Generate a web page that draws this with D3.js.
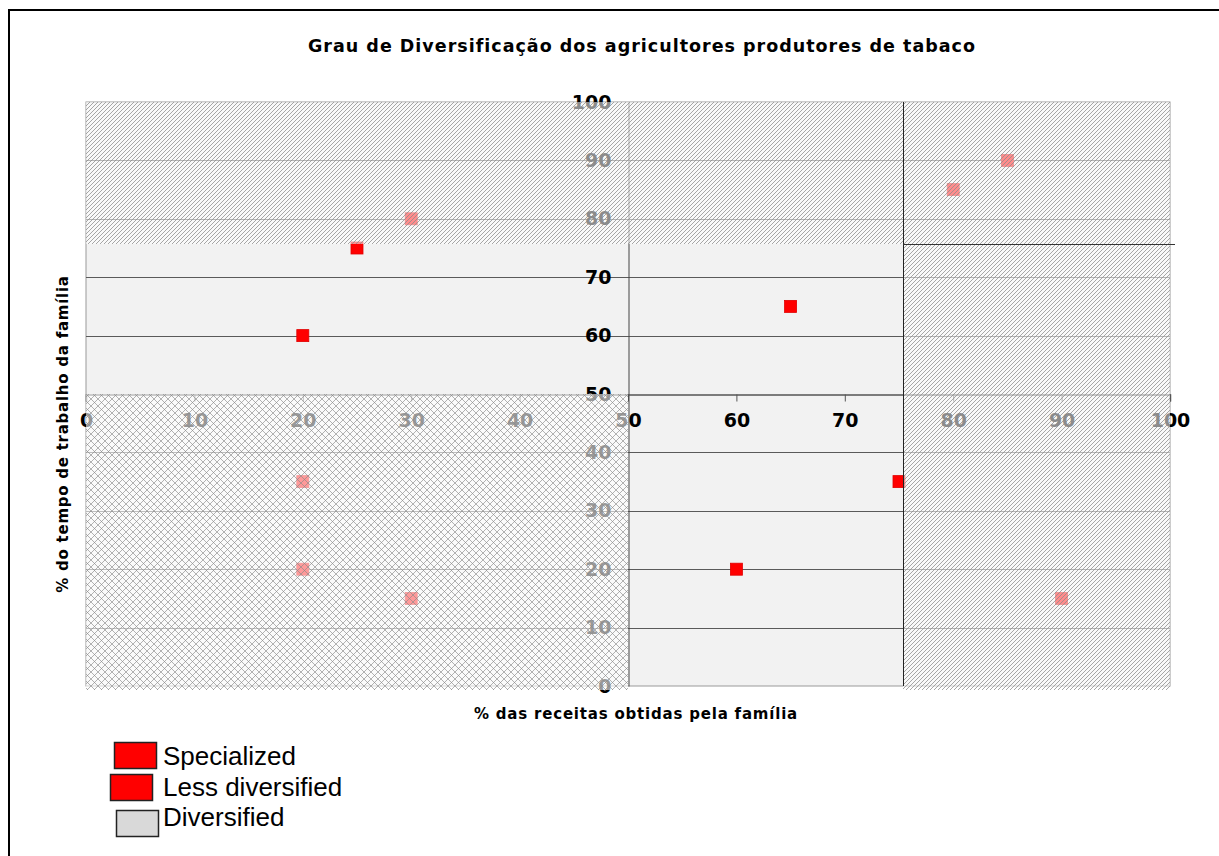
<!DOCTYPE html>
<html>
<head>
<meta charset="utf-8">
<script src="https://cdn.jsdelivr.net/npm/d3@7"></script>
<style>
  html, body { margin: 0; padding: 0; background: #fff; }
  svg { display: block; }
  text { font-family: "DejaVu Sans", Verdana, sans-serif; }
</style>
</head>
<body>
<svg id="chart" width="1219" height="856"></svg>
<script>
// Farm households: share of income (x) and share of family labour time (y) from tobacco
const incomeShare = [20, 25, 30, 65, 80, 85, 75, 60, 90, 20, 20, 30];
const labourShare = [60, 75, 80, 65, 85, 90, 35, 20, 15, 35, 20, 15];

const xTicks = [0, 10, 20, 30, 40, 50, 60, 70, 80, 90, 100];
const yTicks = [0, 10, 20, 30, 40, 50, 60, 70, 80, 90, 100];

// Diversification zones in data units
const zoneType = ["diag", "diag", "cross"];
const zoneX0 = [0, 75, 0];
const zoneX1 = [100, 100, 50];
const zoneY0 = [75, 0, 0];
const zoneY1 = [100, 75, 50];

const legendLabels = ["Specialized", "Less diversified", "Diversified"];
const legendColors = ["#ff0000", "#ff0000", "#d9d9d9"];

const titleText = "Grau de Diversificação dos agricultores produtores de tabaco";
const xTitle = "% das receitas obtidas pela família";
const yTitle = "% do tempo de trabalho da família";

const svg = d3.select("#chart");

// outer frame (left and top edges)
svg.append("path")
  .attr("d", "M9,860 V10 H1225")
  .attr("fill", "none").attr("stroke", "#000").attr("stroke-width", 2);

const plotL = 86, plotR = 1170, plotT = 102, plotB = 686;
const x = d3.scaleLinear().domain([0, 100]).range([plotL, plotR]);
const y = d3.scaleLinear().domain([0, 100]).range([plotB, plotT]);
const edge = 4; // zone edges at 75 sit slightly outside the marker centres

// hatch patterns
const defs = svg.append("defs");
const pd = defs.append("pattern").attr("id", "diag")
  .attr("patternUnits", "userSpaceOnUse").attr("width", 4).attr("height", 4);
pd.append("rect").attr("width", 4).attr("height", 4).attr("fill", "#fff").attr("fill-opacity", 0.55);
pd.append("path").attr("d", "M-1,1 L1,-1 M0,4 L4,0 M3,5 L5,3")
  .attr("stroke", "#8a8a8a").attr("stroke-width", 0.75);

const pc = defs.append("pattern").attr("id", "cross")
  .attr("patternUnits", "userSpaceOnUse").attr("width", 7).attr("height", 7);
pc.append("rect").attr("width", 7).attr("height", 7).attr("fill", "#fff").attr("fill-opacity", 0.6);
pc.append("path").attr("d", "M0,0 L7,7 M7,0 L0,7")
  .attr("stroke", "#8a8a8a").attr("stroke-width", 0.65);

// plot background
svg.append("rect")
  .attr("x", plotL).attr("y", plotT)
  .attr("width", plotR - plotL).attr("height", plotB - plotT)
  .attr("fill", "#f2f2f2").attr("stroke", "#9a9a9a").attr("stroke-width", 1);

// horizontal gridlines
svg.append("g").selectAll("line")
  .data(yTicks.filter(d => d !== 0 && d !== 50 && d !== 100))
  .join("line")
  .attr("x1", plotL).attr("x2", plotR)
  .attr("y1", d => Math.round(y(d)) + 0.5).attr("y2", d => Math.round(y(d)) + 0.5)
  .attr("stroke", "#5a5a5a").attr("stroke-width", 1);

// x axis through y = 50
const xAxis = svg.append("g")
  .attr("transform", `translate(0,${Math.round(y(50)) + 0.5})`)
  .call(d3.axisBottom(x).tickValues(xTicks).tickSize(7).tickPadding(12).tickFormat(d3.format("d")));
xAxis.select(".domain").attr("stroke", "#555").attr("stroke-width", 1.5);
xAxis.selectAll(".tick line").attr("stroke", "#555");
xAxis.selectAll(".tick text")
  .attr("fill", "#000").style("font-size", "19px").style("font-weight", "bold")
  .style("font-family", "'DejaVu Sans', Verdana, sans-serif");

// y axis through x = 50
const yAxis = svg.append("g")
  .attr("transform", `translate(${Math.round(x(50)) + 0.5},0)`)
  .call(d3.axisLeft(y).tickValues(yTicks).tickSize(0).tickPadding(17).tickFormat(d3.format("d")));
yAxis.select(".domain").attr("stroke", "#444").attr("stroke-width", 1);
yAxis.selectAll(".tick text")
  .attr("fill", "#000").style("font-size", "19px").style("font-weight", "bold")
  .style("font-family", "'DejaVu Sans', Verdana, sans-serif");

// household markers
svg.append("g").selectAll("rect")
  .data(incomeShare.map((v, i) => [v, labourShare[i]]))
  .join("rect")
  .attr("x", d => x(d[0]) - 6).attr("y", d => y(d[1]) - 6)
  .attr("width", 12).attr("height", 12)
  .attr("fill", "#ff0000").attr("stroke", "#e00000").attr("stroke-width", 0.8);

// hatched zones drawn over the marks
const zones = zoneType.map((t, i) => {
  const x0 = x(zoneX0[i]) + (zoneX0[i] === 75 ? edge : 0);
  const x1 = x(zoneX1[i]);
  const yTop = y(zoneY1[i]) - (zoneY1[i] === 75 ? edge : 0);
  const yBot = zoneY0[i] === 0 ? y(0) + 4 : y(zoneY0[i]) - (zoneY0[i] === 75 ? edge : 0);
  return { t, x0, x1, yTop, yBot };
});
svg.append("g").selectAll("rect")
  .data(zones)
  .join("rect")
  .attr("x", d => d.x0).attr("y", d => d.yTop)
  .attr("width", d => d.x1 - d.x0)
  .attr("height", d => d.yBot - d.yTop)
  .attr("fill", d => `url(#${d.t})`);

// zone boundary lines
svg.append("line")
  .attr("x1", Math.round(x(75)) + edge + 0.5).attr("x2", Math.round(x(75)) + edge + 0.5)
  .attr("y1", plotT).attr("y2", plotB)
  .attr("stroke", "#222").attr("stroke-width", 1);
svg.append("line")
  .attr("x1", x(75) + edge).attr("x2", plotR + 5)
  .attr("y1", Math.round(y(75)) - edge + 0.5).attr("y2", Math.round(y(75)) - edge + 0.5)
  .attr("stroke", "#333").attr("stroke-width", 1);

// titles
svg.append("text")
  .attr("x", 642).attr("y", 52).attr("text-anchor", "middle")
  .style("font-size", "17.5px").style("font-weight", "bold")
  .style("letter-spacing", "1px")
  .text(titleText);

svg.append("text")
  .attr("x", 636).attr("y", 719).attr("text-anchor", "middle")
  .style("font-size", "15px").style("font-weight", "bold")
  .style("letter-spacing", "0.8px")
  .text(xTitle);

svg.append("text")
  .attr("transform", "translate(68,434) rotate(-90)")
  .attr("text-anchor", "middle")
  .style("font-size", "15px").style("font-weight", "bold")
  .style("letter-spacing", "0.75px")
  .text(yTitle);

// legend
const legBoxX = [114, 110, 116];
const legBoxY = [742, 774, 810];
const legTextY = [765, 796, 826];
const leg = svg.append("g");
legendLabels.forEach((lab, i) => {
  leg.append("rect")
    .attr("x", legBoxX[i] + 0.5).attr("y", legBoxY[i] + 0.5)
    .attr("width", 42).attr("height", 26)
    .attr("fill", legendColors[i]).attr("stroke", "#222").attr("stroke-width", 1.5);
  leg.append("text")
    .attr("x", 163).attr("y", legTextY[i])
    .style("font-family", "'Liberation Sans', Arial, sans-serif")
    .style("font-size", "26px")
    .text(lab);
});
</script>
</body>
</html>
